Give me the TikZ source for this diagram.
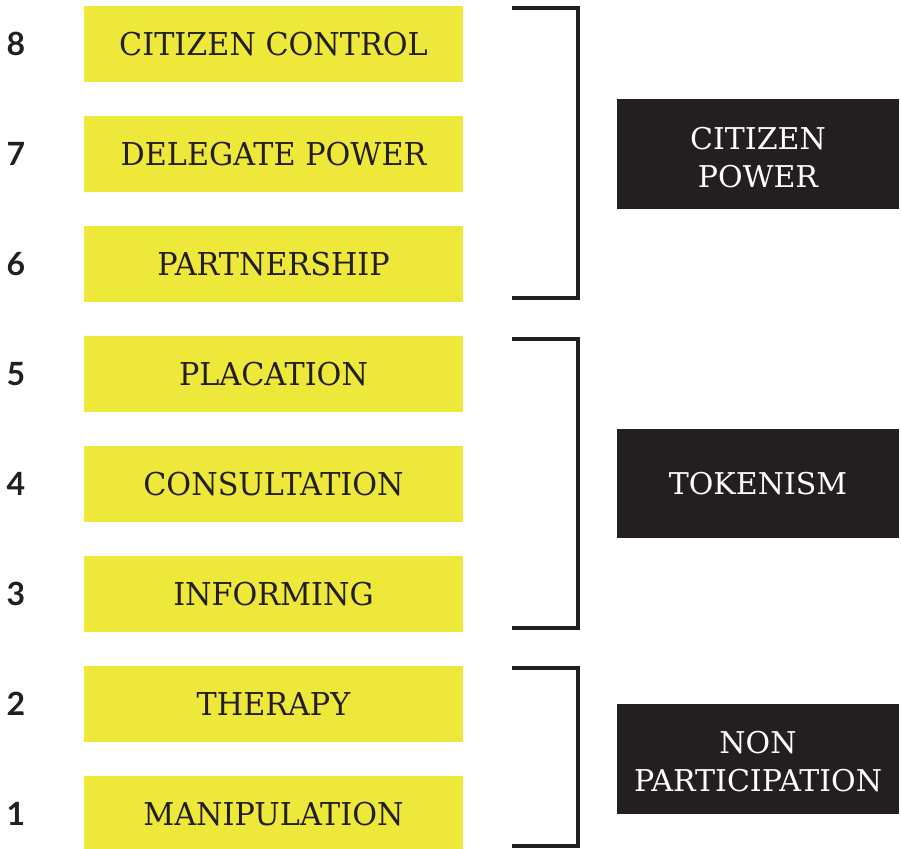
\documentclass[tikz,border=0pt]{standalone}
\usepackage{fontspec}
\setmainfont{DejaVu Serif}
\newfontfamily\slabserif[FakeStretch=0.96]{DejaVu Serif}
\newfontfamily\numfont{Lato}
\definecolor{ybox}{HTML}{EDE83A}
\definecolor{dbox}{HTML}{231F20}
\tikzset{
  rung/.style={fill=ybox, minimum width=379pt, minimum height=76pt, inner sep=0pt,
    text=dbox, font=\slabserif\fontsize{31.5}{36}\selectfont, text height=23pt, text depth=0pt},
  rungnum/.style={text=dbox, font=\numfont\bfseries\fontsize{32}{36}\selectfont,
    inner sep=0pt, text height=23pt, text depth=0pt},
  groupbox/.style={fill=dbox, minimum width=282pt, inner sep=0pt},
  grouplabel/.style={text=white, inner sep=0pt, align=center, font=\fontsize{30}{38}\selectfont},
  bracketline/.style={draw=dbox, line width=4pt, line join=miter}
}
\begin{document}
\begin{tikzpicture}[x=1pt,y=-1pt]
\useasboundingbox (0,0) rectangle (901,848);
\foreach \n/\t [count=\i from 0] in {8/CITIZEN CONTROL,7/DELEGATE POWER,6/PARTNERSHIP,5/PLACATION,4/CONSULTATION,3/INFORMING,2/THERAPY,1/MANIPULATION}{
  \node[rung] (r\n) at (273.5,{44+110*\i}) {\t};
  \node[rungnum] (n\n) at (16,{44+110*\i}) {\n};
}
\node[groupbox, minimum height=110pt] (gpower) at (758,154) {};
\node[groupbox, minimum height=109pt] (gtoken) at (758,483.5) {};
\node[groupbox, minimum height=110pt] (gnon) at (758,759) {};
\node[grouplabel] (lpower) at ([yshift=-3.5pt]gpower.center) {CITIZEN\\POWER};
\node[grouplabel] (ltoken) at (gtoken.center) {TOKENISM};
\node[grouplabel] (lnon) at ([yshift=-3pt]gnon.center) {NON\\PARTICIPATION};
\coordinate (b1a) at (512,8);   \coordinate (b1b) at (512,298);
\coordinate (b2a) at (512,339); \coordinate (b2b) at (512,628);
\coordinate (b3a) at (512,668); \coordinate (b3b) at (512,846);
\draw[bracketline] (b1a) -- ++(66,0) |- (b1b);
\draw[bracketline] (b2a) -- ++(66,0) |- (b2b);
\draw[bracketline] (b3a) -- ++(66,0) |- (b3b);
\end{tikzpicture}
\end{document}
